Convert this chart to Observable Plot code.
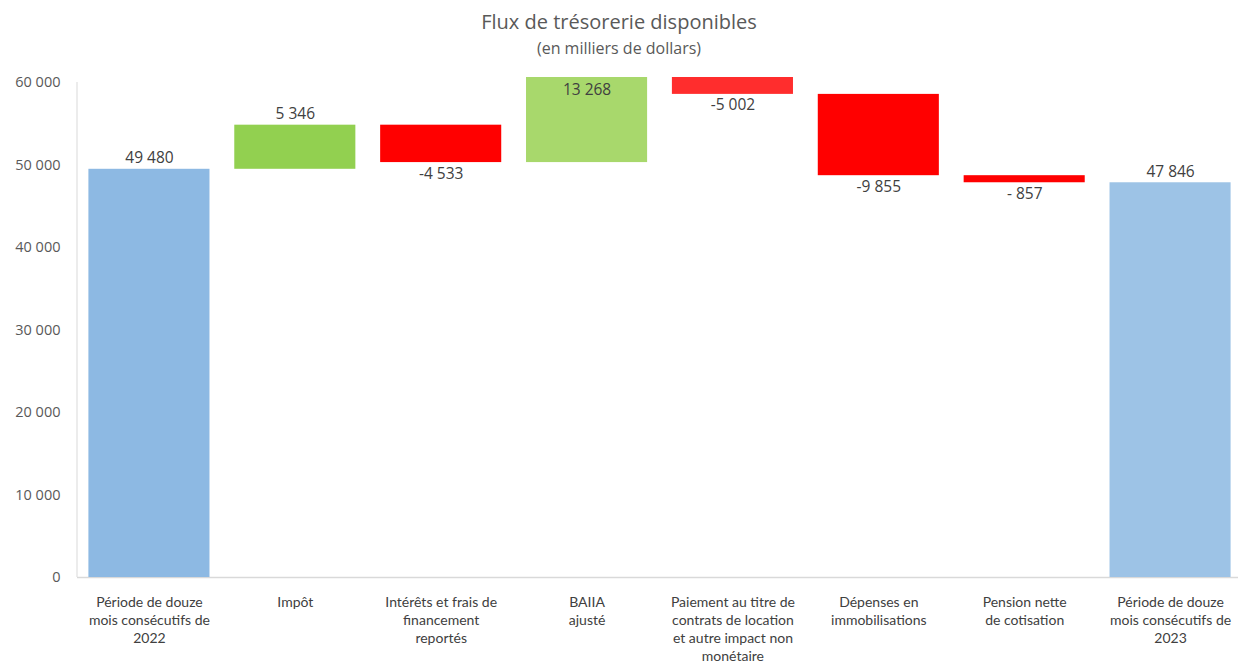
<!DOCTYPE html>
<html><head><meta charset="utf-8">
<script src="https://cdn.jsdelivr.net/npm/d3@7"></script>
<script src="https://cdn.jsdelivr.net/npm/@observablehq/plot@0.6"></script>
<style>
body{margin:0;background:#fff;font-family:"Open Sans",sans-serif;}
#wrap{position:relative;width:1238px;height:664px;overflow:hidden;}
#title{position:absolute;top:8px;left:0;width:1238px;text-align:center;font-size:20px;color:#595959;line-height:28px;}
#sub{position:absolute;top:37px;left:0;width:1238px;text-align:center;font-size:16px;color:#595959;line-height:22px;}
#chart{position:absolute;top:62px;left:0;}
</style></head>
<body>
<div id="wrap">
<div id="title">Flux de trésorerie disponibles</div>
<div id="sub">(en milliers de dollars)</div>
<div id="chart"></div>
</div>
<script>
const categories = [
  "Période de douze\nmois consécutifs de\n2022",
  "Impôt",
  "Intérêts et frais de\nfinancement\nreportés",
  "BAIIA\najusté",
  "Paiement au titre de\ncontrats de location\net autre impact non\nmonétaire",
  "Dépenses en\nimmobilisations",
  "Pension nette\nde cotisation",
  "Période de douze\nmois consécutifs de\n2023"
];
const values = [49480, 5346, -4533, 13268, -5002, -9855, -857, 47846];
const kinds = ["total", "delta", "delta", "delta", "delta", "delta", "delta", "total"];
const valueLabels = ["49 480", "5 346", "-4 533", "13 268", "-5 002", "-9 855", "- 857", "47 846"];
const barColors = ["#8DB9E3", "#92D050", "#FF0000", "#A8D86C", "#FF2D2D", "#FF0000", "#FF0000", "#9DC3E6"];
const yTicks = [0, 10000, 20000, 30000, 40000, 50000, 60000];
const yMax = 60000;

let running = 0;
const rows = categories.map((cat, i) => {
  let y1, y2;
  if (kinds[i] === "total") { y1 = 0; y2 = values[i]; running = values[i]; }
  else { y1 = running; y2 = running + values[i]; running = y2; }
  const top = Math.max(y1, y2), bottom = Math.min(y1, y2);
  return {cat, y1, y2, top, bottom, value: values[i], label: valueLabels[i], color: barColors[i]};
});
const above = rows.filter(d => d.value >= 0 && d.top <= yMax);
const inside = rows.filter(d => d.value >= 0 && d.top > yMax).map(d => ({...d, top: yMax}));
const below = rows.filter(d => d.value < 0);

const fmt = d => d3.format(",")(d).replace(/,/g, " ");

const chart = Plot.plot({
  width: 1238,
  height: 602,
  marginTop: 15,
  marginBottom: 87,
  marginLeft: 77,
  marginRight: 0,
  x: {domain: categories, range: [76, 1243], paddingInner: 0.17, paddingOuter: 0.085, round: false},
  y: {domain: [0, 60606]},
  color: {type: "identity"},
  style: {fontFamily: "'Open Sans', sans-serif", background: "#fff"},
  marks: [
    Plot.ruleY([0], {stroke: "#d9d9d9", strokeWidth: 1.5}),
    (index, scales, vals, dims) => {
      const l = d3.create("svg:line")
        .attr("x1", dims.marginLeft).attr("x2", dims.marginLeft)
        .attr("y1", scales.y(yMax)).attr("y2", scales.y(0))
        .attr("stroke", "#d9d9d9").attr("stroke-width", 1);
      return l.node();
    },
    Plot.rectY(rows, {x: "cat", y1: "y1", y2: "y2", fill: "color", clip: true}),
    Plot.text(above, {x: "cat", y: "top", text: "label", dy: -11, fontSize: 15.5, fill: "#404040"}),
    Plot.text(inside, {x: "cat", y: "top", text: "label", dy: 8, fontSize: 15.5, fill: "#404040"}),
    Plot.text(below, {x: "cat", y: "bottom", text: "label", dy: 11, fontSize: 15.5, fill: "#404040"}),
    Plot.axisY({ticks: yTicks, tickSize: 0, tickPadding: 17, tickFormat: fmt, fontSize: 14.5, fill: "#595959", label: null}),
    Plot.axisX({tickSize: 0, tickPadding: 17, lineHeight: 1.28, fontSize: 14, fontFamily: "Lato", fill: "#404040", label: null})
  ]
});
document.getElementById("chart").appendChild(chart);
</script>
</body></html>
